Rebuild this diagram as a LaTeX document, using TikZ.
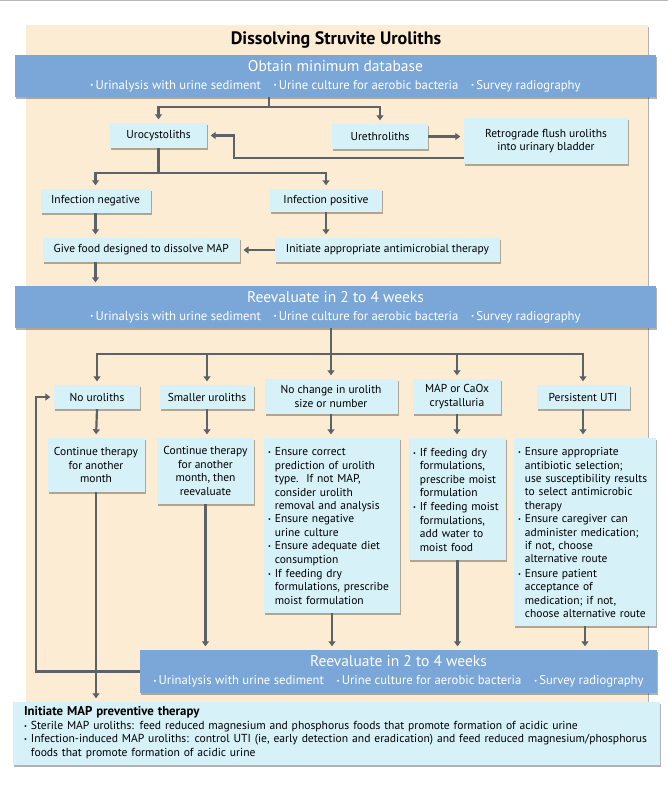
\documentclass[tikz,border=0pt]{standalone}
\usepackage{graphicx}
\usepackage{fontspec}
\setmainfont{PT Sans}
\usetikzlibrary{arrows.meta,shadows}
\definecolor{panelc}{HTML}{FDECD4}
\definecolor{bannerc}{HTML}{7BA7D8}
\definecolor{boxc}{HTML}{D6F1F8}
\definecolor{linec}{HTML}{5B6367}
\newcommand{\bul}{\raisebox{0.2ex}{\scalebox{0.55}{\textbullet}}}
\newcommand{\nolsk}{\lineskip=0pt\relax}
\newcommand{\bitem}[1]{\par\noindent\makebox[0.6em][l]{\bul}\begin{tabular}[t]{@{}l@{}}#1\end{tabular}}
\newcommand{\bline}{{\fontsize{12.7}{14}\selectfont \bul\,Urinalysis with urine sediment\quad\bul\,Urine culture for aerobic bacteria\quad\bul\,Survey radiography}}
\tikzset{
  shad/.style={drop shadow={shadow xshift=1.3pt,shadow yshift=-1.5pt,opacity=0.3,fill=black}},
  sbox/.style={fill=boxc, shad, inner sep=1pt, align=center, font=\fontsize{11.5}{13.4}\selectfont},
  lbox/.style={fill=boxc, shad, inner xsep=4pt, inner ysep=2pt, align=left, font=\fontsize{11.5}{13.4}\selectfont},
  banner/.style={fill=bannerc, text=white, shad, align=center, inner sep=0pt},
  conn/.style={draw=linec, line width=2.2pt},
  arr/.style={conn, -{Triangle[length=5pt,width=7pt]}, shorten >=3.5pt},
}
\begin{document}
\begin{tikzpicture}[x=1pt,y=-1pt]
\useasboundingbox (0,0) rectangle (668,785);
\draw[gray!55, line width=1pt] (0,0.5) -- (668,0.5);
% panel
\fill[panelc, shad] (26,25) rectangle (648,722);
\node[font=\bfseries\fontsize{18}{20}\selectfont] (title) at (336,40) {Dissolving Struvite Uroliths};
% top banner
\node[banner, minimum width=641, minimum height=42] (ban1) at (335.5,76)
  {{\fontsize{15.5}{17}\selectfont Obtain minimum database}\\[6pt]\bline};
\node[sbox, minimum width=97, minimum height=25] (uro) at (158.5,135.5) {Urocystoliths};
\node[sbox, minimum width=96, minimum height=25] (ureth) at (380,136.5) {Urethroliths};
\node[sbox, minimum width=164, minimum height=46] (retro) at (546,141) {Retrograde flush uroliths\\into urinary bladder};
\node[sbox, minimum width=110, minimum height=24] (infneg) at (95.5,201) {Infection negative};
\node[sbox, minimum width=112, minimum height=23] (infpos) at (326,200.5) {Infection positive};
\node[sbox, minimum width=197, minimum height=24] (food) at (141.3,250) {Give food designed to dissolve MAP};
\node[sbox, minimum width=225, minimum height=24] (init) at (387.5,250) {Initiate appropriate antimicrobial therapy};
\node[banner, minimum width=641, minimum height=42] (ban2) at (335.5,307)
  {{\fontsize{15.5}{17}\selectfont Reevaluate in 2 to 4 weeks}\\[6pt]\bline};
% columns
\node[sbox, minimum width=86, minimum height=24] (nour) at (97,397) {No uroliths};
\node[sbox, minimum width=94, minimum height=24] (small) at (207,397) {Smaller uroliths};
\node[sbox, minimum width=133, minimum height=35] (nochg) at (331,396.5) {No change in urolith\\size or number};
\node[sbox, minimum width=88, minimum height=35] (mapx) at (457,396.5) {MAP or CaOx\\crystalluria};
\node[sbox, minimum width=93, minimum height=24] (puti) at (583,397) {Persistent UTI};
\node[sbox, minimum width=97, minimum height=54] (cont1) at (96,465) {Continue therapy\\for another\\month};
\node[sbox, minimum width=97, minimum height=66] (cont2) at (205.5,471) {Continue therapy\\for another\\month, then\\reevaluate};
\node[lbox, text width=128, minimum height=175] (ens) at (332,525.5) {\nolsk
\bitem{Ensure correct\\prediction of urolith\\type.\ \ If not MAP,\\consider urolith\\removal and analysis}
\bitem{Ensure negative\\urine culture}
\bitem{Ensure adequate diet\\consumption}
\bitem{If feeding dry\\formulations, prescribe\\moist formulation}};
\node[lbox, text width=89, minimum height=122] (mapd) at (457.5,499) {\nolsk
\bitem{If feeding dry\\formulations,\\prescribe moist\\formulation}
\bitem{If feeding moist\\formulations,\\add water to\\moist food}};
\node[lbox, text width=134, minimum height=188] (putid) at (585,532) {\nolsk
\bitem{Ensure appropriate\\antibiotic selection;\\use susceptibility results\\to select antimicrobic\\therapy}
\bitem{Ensure caregiver can\\administer medication;\\if not, choose\\alternative route}
\bitem{Ensure patient\\acceptance of\\medication; if not,\\choose alternative route}};
\node[banner, minimum width=517, minimum height=43] (ban3) at (398.5,671.5)
  {{\fontsize{15.5}{17}\selectfont Reevaluate in 2 to 4 weeks}\\[6pt]\bline};
\node[lbox, inner xsep=11pt, text width=625, minimum height=63, font=\fontsize{11.6}{13.4}\selectfont] (final) at (336.5,733.5) {\nolsk
{\bfseries\fontsize{12.8}{13.4}\selectfont Initiate MAP preventive therapy}
\bitem{Sterile MAP uroliths: feed reduced magnesium and phosphorus foods that promote formation of acidic urine}
\bitem{Infection-induced MAP uroliths: control UTI (ie, early detection and eradication) and feed reduced magnesium/phosphorus\\foods that promote formation of acidic urine}};
% connectors
\coordinate (j1) at (269,107);
\draw[conn] (ban1.south -| j1) -- (j1);
\draw[arr] (j1) -| (uro.north);
\draw[arr] (j1) -| (ureth.north);
\draw[arr] (ureth.east) -- (ureth.east -| retro.west);
\draw[arr] (retro.south west) ++(0,-6) -- ++(-230,0) |- (uro.east);
\coordinate (j2) at (158.5,173);
\draw[conn] (uro.south) -- (j2);
\draw[arr] (j2) -| (infneg.north);
\draw[arr] (j2) -| (infpos.north);
\draw[arr] (infneg.south) -- (infneg.south |- food.north);
\draw[arr] (infpos.south) -- (infpos.south |- init.north);
\draw[arr] (init.west) -- (food.east);
\draw[arr] (infneg.south |- food.south) -- (infneg.south |- ban2.north);
\coordinate (j3) at (331,354);
\draw[conn] (ban2.south -| j3) -- (j3);
\draw[arr] (j3) -| (nour.north);
\draw[arr] (j3) -| (small.north);
\draw[arr] (j3) -- (nochg.north);
\draw[arr] (j3) -| (mapx.north);
\draw[arr] (j3) -| (puti.north);
\draw[arr] (nour.south) -- (cont1.north);
\draw[arr] (small.south) -- (small.south |- cont2.north);
\draw[arr] (nochg.south) -- (nochg.south |- ens.north);
\draw[arr] (mapx.south) -- (mapx.south |- mapd.north);
\draw[arr] (puti.south) -- (puti.south |- putid.north);
\draw[arr] (cont2.south) -- (cont2.south |- ban3.north);
\draw[arr] (ens.south) -- (ens.south |- ban3.north);
\draw[arr] (mapd.south) -- (mapd.south |- ban3.north);
\draw[arr] (putid.south) -- (putid.south |- ban3.north);
\draw[arr] (ban3.west) -- ++(-104,0) |- (nour.west);
\draw[arr] (cont1.south) -- (cont1.south |- final.north);
\end{tikzpicture}
\end{document}
